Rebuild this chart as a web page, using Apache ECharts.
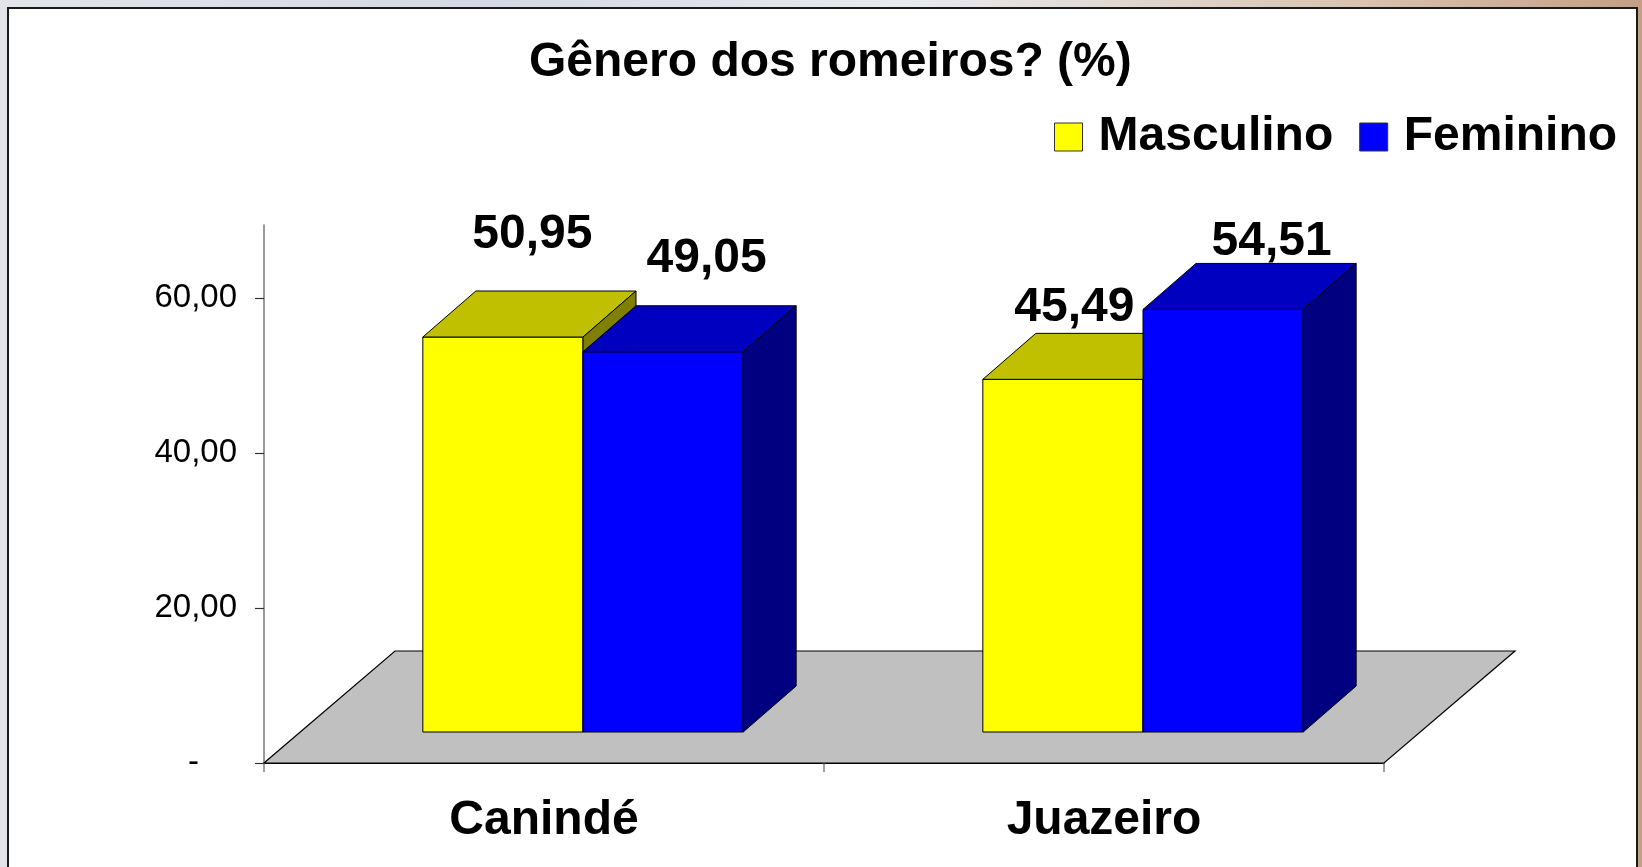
<!DOCTYPE html>
<html>
<head>
<meta charset="utf-8">
<title>Gênero dos romeiros</title>
<script src="https://cdn.jsdelivr.net/npm/echarts@6/dist/echarts.min.js"></script>
<style>
  html, body { margin: 0; padding: 0; overflow: hidden; }
  body {
    width: 1642px; height: 867px;
    background: linear-gradient(90deg, #e2e4ea 0%, #d4d8e4 30%, #e8eaef 55%, #d9c4b2 82%, #c49f86 100%);
  }
  #chart { width: 1642px; height: 867px; }
</style>
</head>
<body>
<div id="chart"></div>
<script>
// dados
var categories = ['Canindé', 'Juazeiro'];
var seriesNames = ['Masculino', 'Feminino'];
var masculino = [50.95, 45.49];
var feminino = [49.05, 54.51];
var yTicks = [0, 20, 40, 60];

var FONT = '"Liberation Sans", Arial, sans-serif';
var colors = [
  { front: '#FFFF00', top: '#C0C000', side: '#808000' },
  { front: '#0000FF', top: '#0000C0', side: '#000080' }
];
var FLOOR_DEPTH = [131, -112];   // profundidade do piso (px)
var BAR_SHIFT = [39, -31];       // face frontal das barras recuada no piso
var BAR_DEPTH = [53, -46];       // profundidade das barras
var BAR_RATIO = 0.286;           // largura da barra / largura da categoria
// ajustes finos da posição dos rótulos (como no Excel)
var labelNudge = [
  [[3, -79], [-15, -49]],
  [[17, -70], [22, -45]]
];

function fmt(v) {
  return v.toFixed(2).replace('.', ',');
}

function floorRenderer(params, api) {
  var cs = params.coordSys;
  var x0 = cs.x, x1 = cs.x + cs.width, y = cs.y + cs.height;
  return {
    type: 'polygon',
    shape: {
      points: [
        [x0, y], [x1, y],
        [x1 + FLOOR_DEPTH[0], y + FLOOR_DEPTH[1]],
        [x0 + FLOOR_DEPTH[0], y + FLOOR_DEPTH[1]]
      ]
    },
    style: { fill: '#C0C0C0', stroke: '#000', lineWidth: 1.2 }
  };
}

function barRenderer(idx) {
  return function (params, api) {
    var cat = api.value(0);
    var val = api.value(1);
    var base = api.coord([cat, 0]);
    var top = api.coord([cat, val]);
    var band = api.size([1, 0])[0];
    var w = band * BAR_RATIO;
    var x0 = base[0] + (idx === 0 ? -w : 0) + BAR_SHIFT[0];
    var x1 = x0 + w;
    var yb = base[1] + BAR_SHIFT[1];
    var yt = top[1] + BAR_SHIFT[1];
    var dx = BAR_DEPTH[0], dy = BAR_DEPTH[1];
    var c = colors[idx];
    var nudge = labelNudge[idx][params.dataIndex];
    var line = { stroke: '#000', lineWidth: 1 };
    return {
      type: 'group',
      children: [
        {
          type: 'rect',
          shape: { x: x0, y: yt, width: w, height: yb - yt },
          style: Object.assign({ fill: c.front }, line)
        },
        {
          type: 'polygon',
          shape: { points: [[x0, yt], [x1, yt], [x1 + dx, yt + dy], [x0 + dx, yt + dy]] },
          style: Object.assign({ fill: c.top }, line)
        },
        {
          type: 'polygon',
          shape: { points: [[x1, yt], [x1, yb], [x1 + dx, yb + dy], [x1 + dx, yt + dy]] },
          style: Object.assign({ fill: c.side }, line)
        },
        {
          type: 'text',
          z2: 100,
          x: (x0 + x1) / 2 + dx / 2 + nudge[0],
          y: yt + dy / 2 + nudge[1],
          style: {
            text: fmt(val),
            fill: '#000',
            fontSize: 48,
            fontWeight: 'bold',
            fontFamily: FONT,
            align: 'center',
            verticalAlign: 'middle'
          }
        }
      ]
    };
  };
}

var chart = echarts.init(document.getElementById('chart'), null, { renderer: 'canvas' });

chart.setOption({
  backgroundColor: 'transparent',
  animation: false,
  graphic: {
    elements: [{
      type: 'rect',
      z: -100,
      silent: true,
      shape: { x: 8, y: 8, width: 1629, height: 900 },
      style: { fill: '#fff', stroke: '#1a1a1a', lineWidth: 2 }
    }]
  },
  title: {
    text: 'Gênero dos romeiros? (%)',
    left: 524,
    top: 34,
    textStyle: { fontSize: 48, fontWeight: 'bold', fontFamily: FONT, color: '#000' }
  },
  legend: {
    data: seriesNames,
    left: 1049,
    top: 108,
    icon: 'rect',
    itemWidth: 28,
    itemHeight: 28,
    itemGap: 26,
    itemStyle: { borderColor: '#333', borderWidth: 1 },
    textStyle: { fontSize: 48, fontWeight: 'bold', fontFamily: FONT, color: '#000', padding: [0, 0, 0, 11] }
  },
  grid: { left: 264, right: 258, top: 225, bottom: 104, containLabel: false },
  xAxis: {
    type: 'category',
    data: categories,
    boundaryGap: true,
    axisLine: { show: true, lineStyle: { color: '#000', width: 1.2 } },
    axisTick: { show: true, length: 9, lineStyle: { color: '#808080', width: 1.5 } },
    axisLabel: { margin: 34, fontSize: 48, fontWeight: 'bold', fontFamily: FONT, color: '#000' }
  },
  yAxis: {
    type: 'value',
    min: 0,
    max: 69.4,
    interval: 20,
    splitLine: { show: false },
    axisLine: { show: true, lineStyle: { color: '#777', width: 1.5 } },
    axisTick: { show: true, length: 9, customValues: yTicks, lineStyle: { color: '#333', width: 1.2 } },
    axisLabel: {
      customValues: yTicks,
      margin: 27,
      fontSize: 33,
      fontFamily: FONT,
      color: '#000',
      formatter: function (v) {
        return v === 0 ? '{z|-}' : fmt(v);
      },
      rich: {
        z: { fontSize: 33, fontFamily: FONT, color: '#000', padding: [0, 38, 0, 0] }
      }
    }
  },
  series: [
    {
      type: 'custom',
      name: 'piso',
      z: 1,
      silent: true,
      renderItem: floorRenderer,
      data: [[0, 0]]
    },
    {
      type: 'custom',
      name: seriesNames[0],
      z: 2,
      itemStyle: { color: colors[0].front },
      renderItem: barRenderer(0),
      encode: { x: 0, y: 1 },
      data: masculino.map(function (v, i) { return [i, v]; })
    },
    {
      type: 'custom',
      name: seriesNames[1],
      z: 3,
      itemStyle: { color: colors[1].front },
      renderItem: barRenderer(1),
      encode: { x: 0, y: 1 },
      data: feminino.map(function (v, i) { return [i, v]; })
    }
  ]
});
</script>
</body>
</html>
